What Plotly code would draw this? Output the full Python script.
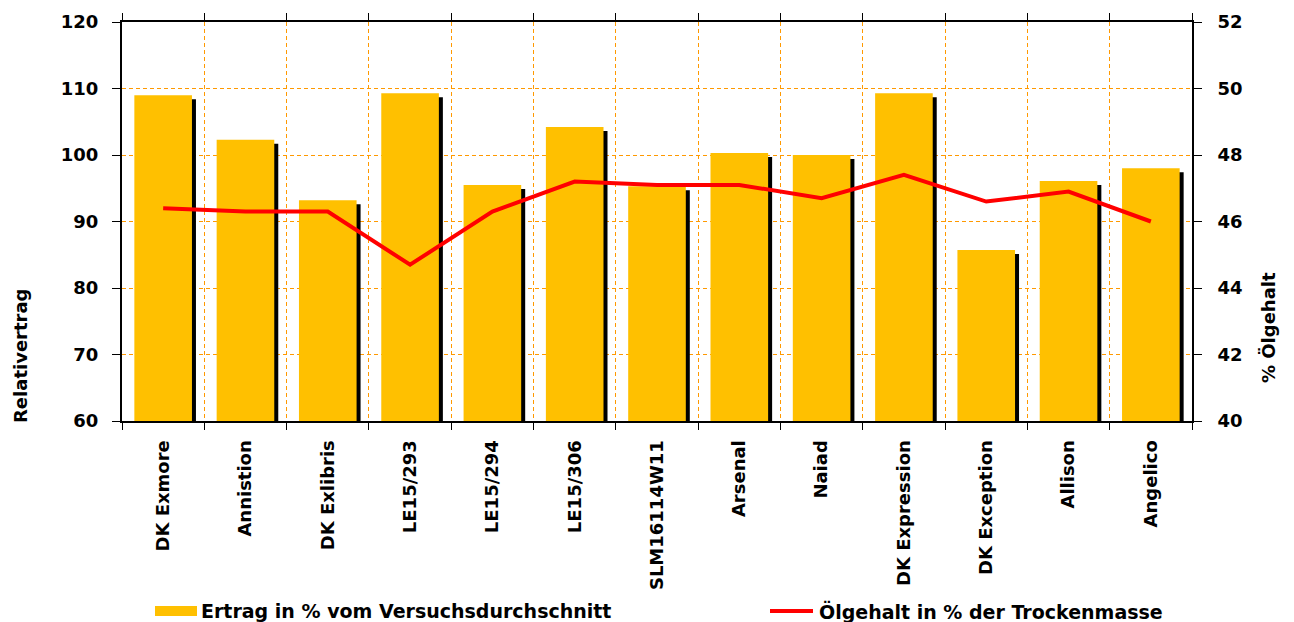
import plotly.graph_objects as go

categories = ["DK Exmore", "Annistion", "DK Exlibris", "LE15/293", "LE15/294", "LE15/306",
              "SLM16114W11", "Arsenal", "Naiad", "DK Expression", "DK Exception", "Allison", "Angelico"]
ertrag = [109.0, 102.3, 93.2, 109.3, 95.5, 104.2, 95.3, 100.3, 100.0, 109.3, 85.7, 96.1, 98.0]
oelgehalt = [46.4, 46.3, 46.3, 44.7, 46.3, 47.2, 47.1, 47.1, 46.7, 47.4, 46.6, 46.9, 46.0]
left_ticks = [60, 70, 80, 90, 100, 110, 120]
right_ticks = [40, 42, 44, 46, 48, 50, 52]

FONT = "DejaVu Sans"
OFF = 8  # page body margin
W, H = 1294 - OFF, 622 - OFF
ML, MT = 122 - OFF, 22 - OFF
MR = W - (1192 - OFF)
MB = H - (421 - OFF)
plot_h = H - MT - MB
plot_w = W - ML - MR
n = len(categories)
px_per_cat = plot_w / n
units_per_px = 60 / plot_h

bar_w = 0.70
shadow_dx = 4 / px_per_cat
shadow_dy = 4 * units_per_px

fig = go.Figure()
fig.add_trace(go.Bar(
    x=categories, y=[v - shadow_dy for v in ertrag], width=bar_w,
    offset=-bar_w / 2 + shadow_dx, marker=dict(color="black", line=dict(width=0)),
    showlegend=False, hoverinfo="skip"))
fig.add_trace(go.Bar(
    x=categories, y=ertrag, width=bar_w, offset=-bar_w / 2,
    marker=dict(color="#FFC000", line=dict(width=0)),
    name="Ertrag in % vom Versuchsdurchschnitt", showlegend=False))
fig.add_trace(go.Scatter(
    x=categories, y=oelgehalt, yaxis="y2", mode="lines",
    line=dict(color="#FF0000", width=4),
    name="Ölgehalt in % der Trockenmasse", showlegend=False))

GRID = "#FF9900"
DASH = "4px,3px"
tickfont = dict(family=FONT, size=18, color="black")
fig.update_layout(
    width=W, height=H,
    margin=dict(l=ML, r=MR, t=MT, b=MB, autoexpand=False),
    plot_bgcolor="white", paper_bgcolor="white",
    barmode="overlay",
    font=dict(family=FONT, color="black"),
    xaxis=dict(
        type="category", tickangle=-90, tickfont=dict(family=FONT, size=18, color="black"),
        tickvals=categories, ticktext=[f"<b>{c}</b>" for c in categories],
        tickson="boundaries", ticks="outside", ticklen=7, tickcolor="black", tickwidth=1,
        ticklabelstandoff=10, automargin=False,
        showline=True, linecolor="black", linewidth=2, mirror="ticks",
        showgrid=True, gridcolor=GRID, griddash=DASH, gridwidth=1,
        range=[-0.5, n - 0.5]),
    xaxis2=dict(
        overlaying="x", range=[-0.5, n - 0.5], tickvals=[i - 0.5 for i in range(n + 1)],
        ticks="inside", ticklen=7, tickcolor="black", mirror="ticks", automargin=False,
        showticklabels=False, showgrid=False, zeroline=False, showline=False),
    yaxis=dict(
        range=[60, 120], tickvals=left_ticks, ticktext=[f"<b>{t}</b>" for t in left_ticks],
        tickfont=tickfont, ticks="outside", ticklen=8, tickcolor="black",
        ticklabelstandoff=10, automargin=False,
        showline=True, linecolor="black", linewidth=2, mirror=True,
        showgrid=True, gridcolor=GRID, griddash=DASH, gridwidth=1,
        zeroline=False),
    yaxis2=dict(
        range=[40, 52], tickvals=right_ticks, ticktext=[f"<b>{t}</b>" for t in right_ticks],
        tickfont=tickfont, overlaying="y", side="right", ticks="outside", ticklen=8,
        ticklabelstandoff=12, automargin=False,
        tickcolor="black", showline=True, linecolor="black", linewidth=2,
        showgrid=False, zeroline=False),
    yaxis3=dict(
        range=[60, 120], tickvals=left_ticks, overlaying="y", ticks="inside", ticklen=8,
        tickcolor="black", mirror="ticks", showticklabels=False, showgrid=False,
        zeroline=False, showline=False, automargin=False),
)

def py(ypix):
    return (H - MB - (ypix - OFF)) / plot_h

def px(xpix):
    return ((xpix - OFF) - ML) / plot_w

fig.add_annotation(text="<b>Relativertrag</b>", textangle=-90, xref="paper", yref="paper",
                   x=px(20), y=py(356), xanchor="center", yanchor="middle", showarrow=False,
                   font=dict(family=FONT, size=18, color="black"))
fig.add_annotation(text="<b>% Ölgehalt</b>", textangle=-90, xref="paper", yref="paper",
                   x=px(1268), y=py(328), xanchor="center", yanchor="middle", showarrow=False,
                   font=dict(family=FONT, size=18, color="black"))

# legend
LEG_Y = 611
fig.add_shape(type="rect", xref="paper", yref="paper", x0=px(155), x1=px(197),
              y0=py(LEG_Y + 5), y1=py(LEG_Y - 5), fillcolor="#FFC000", line=dict(width=0))
fig.add_annotation(text="<b>Ertrag in % vom Versuchsdurchschnitt</b>", xref="paper", yref="paper",
                   x=px(199), y=py(LEG_Y), xanchor="left", yanchor="middle", showarrow=False,
                   font=dict(family=FONT, size=19, color="black"))
fig.add_shape(type="line", xref="paper", yref="paper", x0=px(770), x1=px(813),
              y0=py(LEG_Y), y1=py(LEG_Y), line=dict(color="#FF0000", width=4))
fig.add_annotation(text="<b>Ölgehalt in % der Trockenmasse</b>", xref="paper", yref="paper",
                   x=px(817), y=py(LEG_Y), xanchor="left", yanchor="middle", showarrow=False,
                   font=dict(family=FONT, size=19, color="black"))

fig.write_html("out.html")
